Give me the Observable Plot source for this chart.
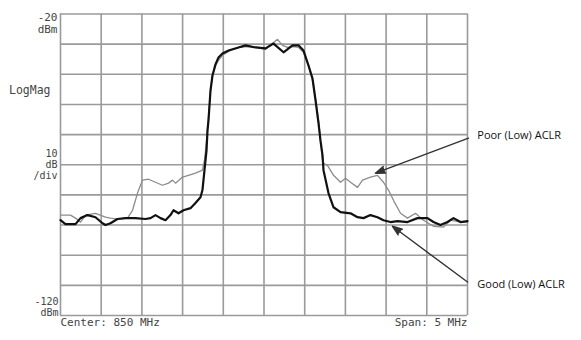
<!DOCTYPE html>
<html><head><meta charset="utf-8">
<script src="https://cdn.jsdelivr.net/npm/d3@7"></script>
<script src="https://cdn.jsdelivr.net/npm/@observablehq/plot@0.6"></script>
<style>body{margin:0;background:#fff}</style>
</head><body><div id="chart"></div>
<script>
// Frequency (MHz) and level (dBm)
const freqGood = [847.500,847.561,847.684,847.746,847.832,847.930,848.016,848.053,848.114,848.200,848.299,848.421,848.544,848.606,848.667,848.729,848.790,848.851,848.888,848.950,849.011,849.097,849.158,849.220,849.244,849.269,849.294,849.306,849.318,849.343,849.367,849.404,849.441,849.490,849.564,849.687,849.773,849.896,850.018,850.117,850.240,850.350,850.424,850.485,850.547,850.596,850.633,850.670,850.694,850.719,850.731,850.792,850.854,850.940,851.063,851.149,851.222,851.308,851.394,851.468,851.554,851.640,851.763,851.886,852.008,852.082,852.168,852.254,852.328,852.414,852.500];
const dbmGood = [-88.4,-89.7,-89.7,-87.7,-86.7,-87.4,-89.4,-90.0,-89.4,-88.0,-87.7,-87.7,-88.0,-87.7,-86.7,-87.7,-88.4,-86.7,-85.1,-86.1,-85.1,-84.4,-82.7,-80.8,-78.4,-71.8,-65.2,-58.6,-55.3,-45.3,-40.4,-36.7,-34.4,-33.1,-32.1,-31.1,-30.4,-31.1,-31.4,-29.8,-32.7,-30.4,-30.4,-32.1,-37.1,-41.4,-48.6,-56.3,-62.0,-66.9,-71.8,-79.4,-84.1,-85.7,-86.1,-87.4,-87.7,-86.7,-87.4,-88.4,-89.0,-88.7,-89.0,-87.7,-87.7,-89.0,-90.0,-89.0,-87.7,-89.0,-88.7];

const freqPoor = [847.500,847.623,847.684,847.746,847.807,847.930,848.053,848.114,848.200,848.323,848.385,848.446,848.507,848.581,848.667,848.753,848.827,848.876,848.913,848.999,849.072,849.158,849.244,849.269,849.294,849.318,849.343,849.367,849.404,849.441,849.490,849.588,849.687,849.797,849.920,850.018,850.080,850.166,850.227,850.289,850.362,850.424,850.485,850.547,850.596,850.633,850.670,850.694,850.719,850.731,850.780,850.854,850.940,851.001,851.063,851.149,851.210,851.308,851.394,851.468,851.529,851.591,851.677,851.763,851.861,851.959,852.082,852.205,852.291,852.414,852.500];
const dbmPoor = [-86.7,-86.7,-87.7,-89.0,-86.7,-86.1,-87.4,-87.7,-88.0,-87.7,-85.1,-79.4,-75.1,-74.8,-75.8,-76.8,-76.1,-75.1,-76.1,-74.1,-73.5,-72.8,-71.8,-68.5,-62.0,-54.6,-45.3,-40.4,-37.1,-35.4,-33.7,-32.1,-31.1,-30.8,-31.1,-31.8,-30.4,-28.4,-30.4,-31.1,-30.8,-31.1,-32.7,-37.1,-42.0,-48.0,-55.3,-62.0,-68.5,-69.5,-70.2,-73.5,-75.8,-74.5,-75.8,-77.5,-75.1,-74.1,-73.5,-75.8,-78.4,-81.8,-86.1,-87.7,-86.1,-88.4,-90.4,-90.7,-88.4,-89.0,-89.0];

// Graticule (10 divisions each way)
const xTicks = [847.5,848.0,848.5,849.0,849.5,850.0,850.5,851.0,851.5,852.0,852.5];
const yTicks = [-20,-30,-40,-50,-60,-70,-80,-90,-100,-110,-120];

// Screen labels
const topLabel = [{y: -20, text: "-20\ndBm"}];
const scaleLabel = [{y: -70, text: "10\ndB\n/div"}];
const bottomLabel = [{y: -120, text: "-120\ndBm"}];
const logMagLabel = [{y: -45.3, text: "LogMag"}];
const centerLabel = [{x: 847.5, text: "Center: 850 MHz"}];
const spanLabel = [{x: 852.5, text: "Span: 5 MHz"}];

// Annotations
const annotations = [
  {label: "Poor (Low) ACLR", tx: 852.62, ty: -60.2, x1: 852.512, y1: -61.2, x2: 851.369, y2: -72.8},
  {label: "Good (Low) ACLR", tx: 852.62, ty: -109.6, x1: 852.500, y1: -108.9, x2: 851.578, y2: -90.4}
];

const good = freqGood.map((f, i) => ({f, v: dbmGood[i]}));
const poor = freqPoor.map((f, i) => ({f, v: dbmPoor[i]}));

const lab = {fontSize: 10, fill: "#444", lineHeight: 1.1};
const chart = Plot.plot({
  width: 581,
  height: 340,
  marginLeft: 60,
  marginRight: 114,
  marginTop: 13.5,
  marginBottom: 25,
  x: {domain: [847.5, 852.5], axis: null},
  y: {domain: [-120, -20], axis: null},
  style: {background: "white", fontFamily: "DejaVu Sans Mono"},
  marks: [
    Plot.ruleX(xTicks, {stroke: "#9a9a9a", strokeWidth: 1.6}),
    Plot.ruleY(yTicks, {stroke: "#9a9a9a", strokeWidth: 1.6}),
    Plot.line(poor, {x: "f", y: "v", stroke: "#8c8c8c", strokeWidth: 1.3}),
    Plot.line(good, {x: "f", y: "v", stroke: "#111", strokeWidth: 2.2}),
    Plot.text(topLabel, {x: () => 847.5, y: "y", text: "text", textAnchor: "end", lineAnchor: "top", dx: -3, dy: -2, ...lab, fontSize: 11}),
    Plot.text(scaleLabel, {x: () => 847.5, y: "y", text: "text", textAnchor: "end", lineAnchor: "middle", dx: -3, ...lab}),
    Plot.text(bottomLabel, {x: () => 847.5, y: "y", text: "text", textAnchor: "end", lineAnchor: "bottom", dx: -2, ...lab}),
    Plot.text(logMagLabel, {x: () => 847.5, y: "y", text: "text", textAnchor: "end", dx: -10, ...lab, fontSize: 11.5}),
    Plot.text(centerLabel, {x: "x", y: () => -120, text: "text", textAnchor: "start", dy: 7, ...lab, fontSize: 11}),
    Plot.text(spanLabel, {x: "x", y: () => -120, text: "text", textAnchor: "end", dy: 7, ...lab, fontSize: 11}),
    Plot.arrow(annotations, {x1: "x1", y1: "y1", x2: "x2", y2: "y2", stroke: "#333", fill: "#333", strokeWidth: 1.4, headLength: 11, headAngle: 40}),
    Plot.text(annotations, {x: "tx", y: "ty", text: "label", textAnchor: "start", fontSize: 11, fontFamily: "Open Sans", fill: "#111"})
  ]
});
document.getElementById("chart").append(chart);
</script></body></html>
